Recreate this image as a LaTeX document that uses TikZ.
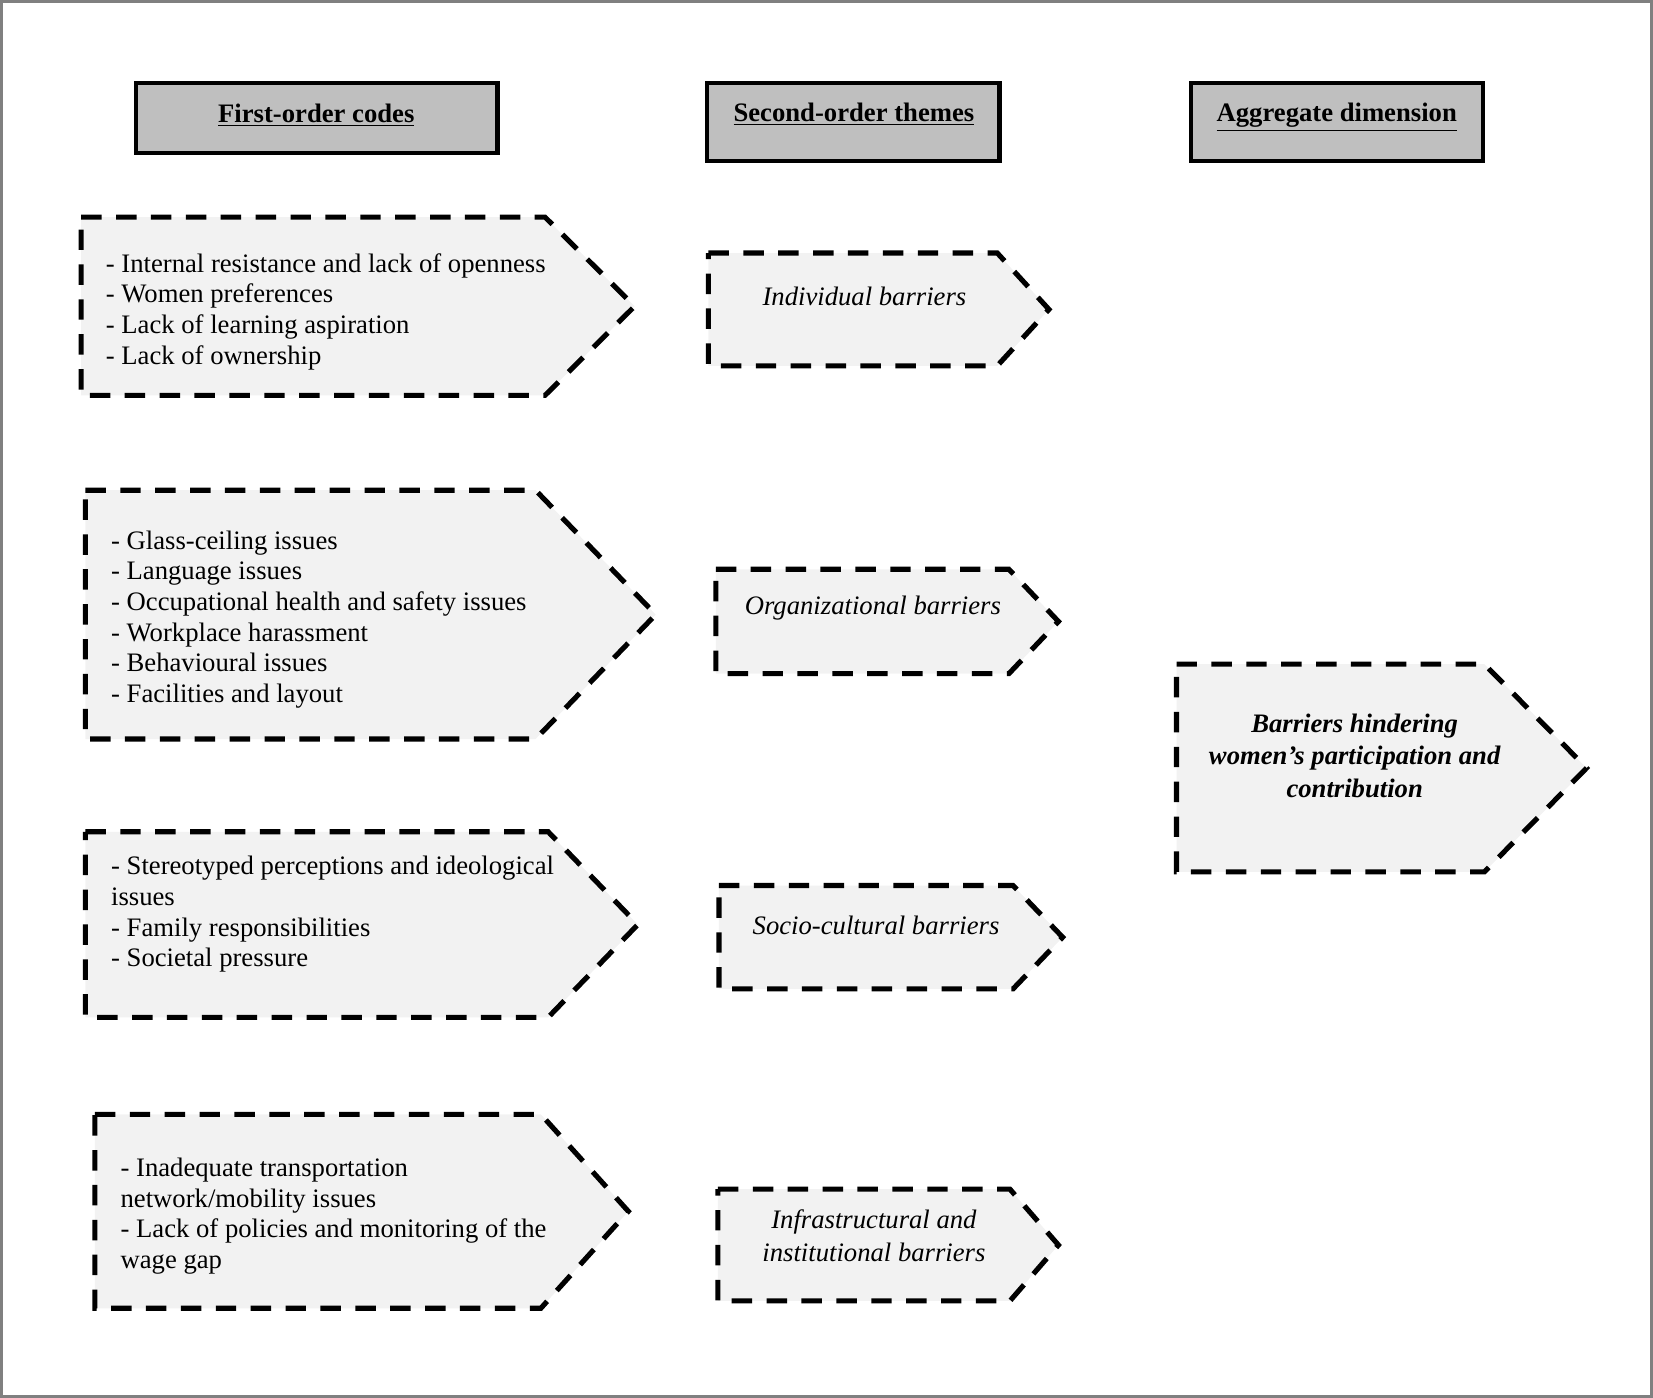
\documentclass[tikz,border=0pt]{standalone}
\usepackage{fontspec}
\setmainfont{Liberation Serif}
\usetikzlibrary{positioning}
\definecolor{hdrGray}{HTML}{BFBFBF}
\definecolor{tagBg}{HTML}{F2F2F2}
\definecolor{frameGray}{HTML}{808080}

\begin{document}
\begin{tikzpicture}[
  x=0.4744pt, y=-0.4744pt,
  font=\fontsize{12}{13.8}\selectfont,
  hdrbox/.style={draw=black, line width=1.9pt, fill=hdrGray},
  hdrtxt/.style={font=\fontsize{12}{13.8}\selectfont\bfseries, anchor=base, inner sep=0pt},
  dashbox/.style={draw=black, line width=2.3pt, fill=tagBg, dash pattern=on 9.2pt off 6.5pt},
  codes/.style={anchor=north west, align=left, inner sep=0pt},
  theme/.style={font=\fontsize{12}{14.7}\selectfont\itshape, align=center, inner sep=0pt},
  dimtxt/.style={font=\fontsize{12}{14.7}\selectfont\bfseries\itshape, align=center, inner sep=0pt},
]

% ---------- dashed pentagon: left top corner-x bottom tip-x ----------
\newcommand{\pent}[5]{%
  \draw[dashbox] (#1,#2) -- (#3,#2) -- (#5,{(#2+#4)/2}) -- (#3,#4) -- (#1,#4) -- cycle;}

\useasboundingbox (0,0) rectangle (1568,1326);
\draw[frameGray, line width=1.4pt] (1.5,1.5) rectangle (1566.5,1324.5);

% =====================================================================
% HEADERS
% =====================================================================
\draw[hdrbox] (129,79) rectangle (472,145);
\node[hdrtxt] (hdrcodes) at (300,116) {\underline{First-order codes}};
\draw[hdrbox] (671,79) rectangle (948,153);
\node[hdrtxt] (hdrthemes) at (810,115) {\underline{Second-order themes}};
\draw[hdrbox] (1130,79) rectangle (1407,153);
\node[hdrtxt] (hdrdim) at (1268,115) {\underline{Aggregate dimension}};

% =====================================================================
% COLUMN 1 : first-order codes
% =====================================================================
\pent{77}{206}{517}{375}{602}
\node[codes] (codesind) at (100,240)
  {- Internal resistance and lack of openness\\
   - Women preferences\\
   - Lack of learning aspiration\\
   - Lack of ownership};

\pent{81}{465}{508}{701}{622}
\node[codes] (codesorg) at (105,503)
  {- Glass-ceiling issues\\
   - Language issues\\
   - Occupational health and safety issues\\
   - Workplace harassment\\
   - Behavioural issues\\
   - Facilities and layout};

\pent{81}{789}{520}{965}{605}
\node[codes] (codessoc) at (105,812)
  {- Stereotyped perceptions and ideological\\
   issues\\
   - Family responsibilities\\
   - Societal pressure};

\pent{90}{1057}{513}{1241}{596}
\node[codes] (codesinf) at (114,1098)
  {- Inadequate transportation\\
   network/mobility issues\\
   - Lack of policies and monitoring of the\\
   wage gap};

% =====================================================================
% COLUMN 2 : second-order themes
% =====================================================================
\pent{672}{240}{946}{347}{995}
\node[theme] (thmind) at (820,281) {Individual barriers};
\pent{679}{540}{957}{639}{1004}
\node[theme] (thmorg) at (828,577) {Organizational barriers};
\pent{682}{840}{961}{938}{1008}
\node[theme] (thmsoc) at (831,878) {Socio-cultural barriers};
\pent{681}{1128}{958}{1234}{1004}
\node[theme] (thminf) at (829,1172) {Infrastructural and\\institutional barriers};

% =====================================================================
% COLUMN 3 : aggregate dimension
% =====================================================================
\pent{1116}{630}{1408}{827}{1505}
\node[dimtxt] (dimbar) at (1285,717)
  {Barriers hindering\\women’s participation and\\contribution};

\end{tikzpicture}
\end{document}
